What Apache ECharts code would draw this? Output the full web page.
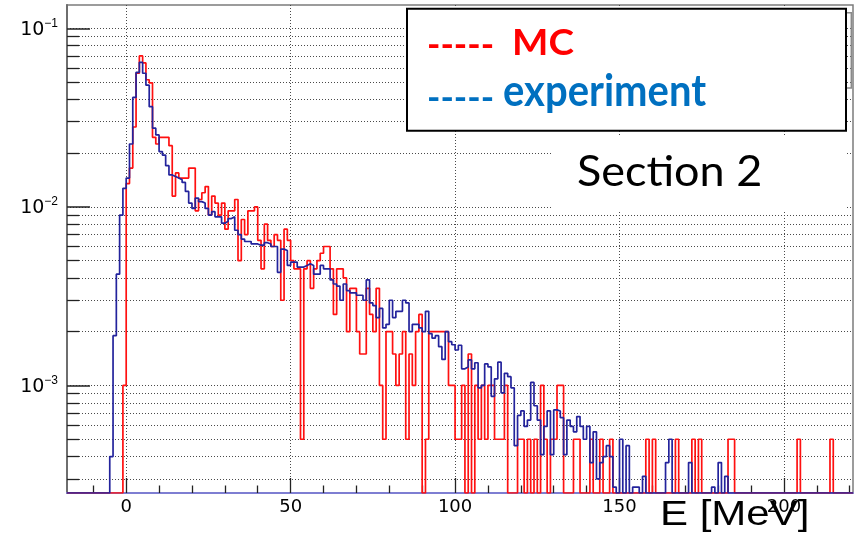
<!DOCTYPE html>
<html>
<head>
<meta charset="utf-8">
<script src="https://cdn.jsdelivr.net/npm/echarts@6/dist/echarts.min.js"></script>
<style>
  html, body { margin: 0; padding: 0; background: #ffffff; }
  #chart { width: 860px; height: 535px; }
</style>
</head>
<body>
<div id="chart"></div>
<script>
// Energy histogram binning: 1 MeV bins spanning the plotted range
const BIN_LOW = -18;
const BIN_WIDTH = 1;

// Normalised entries per bin, listed from BIN_LOW upwards (10 bins per row)
const mcValues = [
  0, 0, 0, 0, 0, 0, 0, 0, 0, 0,                                   // -18 .. -9
  0, 0, 0, 0, 0, 0, 0, 0.001, 0.0135, 0.0165,                     //  -8 .. 1
  0.028, 0.056, 0.070, 0.064, 0.0515, 0.0495, 0.0245, 0.0225, 0.0245, 0.0245, // 2 .. 11
  0.0245, 0.022, 0.0115, 0.0155, 0.0145, 0.0145, 0.0145, 0.0165, 0.0165, 0.0095, // 12 .. 21
  0.011, 0.012, 0.013, 0.009, 0.0115, 0.0105, 0.009, 0.0105, 0.0075, 0.0095,     // 22 .. 31
  0.0095, 0.011, 0.005, 0.0085, 0.007, 0.0095, 0.0095, 0.010, 0.0065, 0.0045,    // 32 .. 41
  0.008, 0.0065, 0.006, 0.007, 0.0065, 0.003, 0.0075, 0.0065, 0.005, 0.0045,     // 42 .. 51
  0.0045, 0.0005, 0.0045, 0.005, 0.0035, 0.0045, 0.005, 0.0055, 0.006, 0.006,    // 52 .. 61
  0.0045, 0.0025, 0.0045, 0.0045, 0.004, 0.002, 0.0035, 0.0035, 0.002, 0.0015,   // 62 .. 71
  0.0015, 0.0035, 0.0025, 0.002, 0.0035, 0.001, 0.0005, 0.002, 0.002, 0.0015,    // 72 .. 81
  0.001, 0.0015, 0.002, 0.0005, 0.0015, 0.001, 0.002, 0.0025, 0, 0.0005,         // 82 .. 91
  0.002, 0.002, 0.002, 0.002, 0.002, 0.002, 0.001, 0.001, 0.0005, 0.0005,        // 92 .. 101
  0.001, 0, 0.0015, 0, 0.001, 0.0005, 0.001, 0.0005, 0.001, 0.001,               // 102 .. 111
  0.0005, 0.0005, 0.0005, 0.001, 0, 0, 0, 0.0005, 0.0005, 0,                     // 112 .. 121
  0.0005, 0, 0.0005, 0, 0.001, 0.0005, 0, 0.0005, 0.0005, 0.001,                 // 122 .. 131
  0.001, 0, 0, 0, 0.0005, 0.0005, 0, 0, 0, 0.0005,                               // 132 .. 141
  0, 0, 0.0005, 0, 0, 0.0005, 0, 0, 0, 0,                                        // 142 .. 151
  0, 0, 0, 0, 0, 0, 0.0005, 0, 0.0005, 0,                                        // 152 .. 161
  0, 0, 0, 0, 0, 0.0005, 0, 0, 0, 0,                                             // 162 .. 171
  0.0005, 0, 0.0005, 0, 0, 0, 0, 0, 0, 0,                                        // 172 .. 181
  0, 0.0005, 0.0005, 0, 0, 0, 0, 0, 0, 0,                                        // 182 .. 191
  0, 0, 0, 0, 0, 0, 0, 0, 0, 0,                                                  // 192 .. 201
  0, 0, 0.0005, 0, 0, 0, 0, 0, 0, 0,                                             // 202 .. 211
  0, 0, 0.0005, 0, 0, 0, 0, 0, 0                                                 // 212 .. 220
];

const expValues = [
  0, 0, 0, 0, 0, 0, 0, 0, 0, 0,                                                  // -18 .. -9
  0, 0, 0, 0.0004, 0.0019, 0.0042, 0.009, 0.0127, 0.0145, 0.0225,                // -8 .. 1
  0.041, 0.0567, 0.0645, 0.056, 0.048, 0.0364, 0.0276, 0.0253, 0.0204, 0.0195,   // 2 .. 11
  0.017, 0.0151, 0.0148, 0.0145, 0.0142, 0.0137, 0.0122, 0.0105, 0.0098, 0.0112, // 12 .. 21
  0.0107, 0.0105, 0.0098, 0.009, 0.0094, 0.0088, 0.0088, 0.0081, 0.0083, 0.0086, // 22 .. 31
  0.0088, 0.0074, 0.0070, 0.0066, 0.0064, 0.0064, 0.0062, 0.0062, 0.0061, 0.0061, // 32 .. 41
  0.0063, 0.0062, 0.0060, 0.0060, 0.0043, 0.0058, 0.0057, 0.0047, 0.0049, 0.0049, // 42 .. 51
  0.0046, 0.0046, 0.0047, 0.0048, 0.0047, 0.0042, 0.0042, 0.0047, 0.0045, 0.0045, // 52 .. 61
  0.0039, 0.0037, 0.0036, 0.0030, 0.0037, 0.0034, 0.0033, 0.0033, 0.0032, 0.0032, // 62 .. 71
  0.0030, 0.0039, 0.0029, 0.0028, 0.0024, 0.0027, 0.0021, 0.0022, 0.0030, 0.0024, // 72 .. 81
  0.0026, 0.0026, 0.0030, 0.0029, 0.0020, 0.0022, 0.0022, 0.0021, 0.0020, 0.0026, // 82 .. 91
  0.00195, 0.00184, 0.0019, 0.00165, 0.0014, 0.0020, 0.00176, 0.00169, 0.00158, 0.00168, // 92 .. 101
  0.00124, 0.00127, 0.00139, 0.00124, 0.00134, 0.00097, 0.0010, 0.00132, 0.00127, 0.00087, // 102 .. 111
  0.00109, 0.00135, 0.00091, 0.00117, 0.00112, 0.00097, 0.00046, 0.00068, 0.00072, 0.00059, // 112 .. 121
  0.00064, 0.00104, 0.00077, 0.00064, 0.00041, 0.00059, 0.00072, 0.00041, 0.00073, 0.00072, // 122 .. 131
  0.00066, 0.00041, 0.00064, 0.00059, 0.00055, 0.00067, 0.00059, 0.0005, 0.00059, 0.00037, // 132 .. 141
  0.00055, 0.0003, 0.00037, 0.0004, 0.00046, 0.0004, 0.00027, 0, 0.0005, 0,      // 142 .. 151
  0.00046, 0, 0.00027, 0.00027, 0, 0.00031, 0, 0, 0, 0,                          // 152 .. 161
  0, 0, 0.00037, 0.0005, 0, 0, 0, 0, 0, 0.00037,                                 // 162 .. 171
  0, 0, 0, 0, 0, 0, 0.00027, 0, 0.00037, 0,                                      // 172 .. 181
  0.00031, 0, 0, 0, 0, 0, 0, 0, 0, 0,                                            // 182 .. 191
  0, 0, 0, 0, 0, 0, 0, 0, 0, 0,                                                  // 192 .. 201
  0, 0, 0, 0, 0, 0, 0, 0, 0, 0,                                                  // 202 .. 211
  0, 0, 0, 0, 0, 0, 0, 0, 0                                                      // 212 .. 220
];

// Axis ranges and tick positions
const X_MIN = -18, X_MAX = 221;
const Y_MIN = 2.5e-4, Y_MAX = 0.135;
const xMajorTicks = [0, 50, 100, 150, 200];
const xMinorTicks = [-10, 10, 20, 30, 40, 60, 70, 80, 90, 110, 120, 130, 140,
                     160, 170, 180, 190, 210, 220];
const yMajorTicks = [0.001, 0.01, 0.1];
const yMinorTicks = [3e-4, 4e-4, 5e-4, 6e-4, 7e-4, 8e-4, 9e-4,
                     0.002, 0.003, 0.004, 0.005, 0.006, 0.007, 0.008, 0.009,
                     0.02, 0.03, 0.04, 0.05, 0.06, 0.07, 0.08, 0.09];

// Step outline points at the bin edges; empty bins sit on the frame bottom
function histogramOutline(values) {
  const pts = values.map((v, i) => [BIN_LOW + i * BIN_WIDTH, v > 0 ? v : Y_MIN]);
  const last = values[values.length - 1];
  pts.push([BIN_LOW + values.length * BIN_WIDTH, last > 0 ? last : Y_MIN]);
  return pts;
}

const dotted = { type: [1, 2], color: '#4a4a4a', width: 1 };
const gridBox = { left: 67, right: 7, top: 5, bottom: 42, outerBoundsMode: 'none' };

const chart = echarts.init(document.getElementById('chart'), null, { renderer: 'canvas' });

chart.setOption({
  animation: false,
  backgroundColor: '#ffffff',
  grid: [
    Object.assign({ show: true, borderColor: '#7c7c7c', borderWidth: 1.5, backgroundColor: 'transparent' }, gridBox),
    Object.assign({}, gridBox)
  ],
  xAxis: [
    {
      gridIndex: 0, type: 'value', min: X_MIN, max: X_MAX,
      axisLine: { show: true, onZero: false, lineStyle: { color: '#7e7ed2', width: 2 } },
      axisTick: { show: true, inside: true, length: 15, customValues: xMajorTicks,
                  lineStyle: { color: '#222', width: 1.3 } },
      axisLabel: { show: true, customValues: xMajorTicks, margin: 5, color: '#000',
                   fontFamily: 'DejaVu Sans', fontSize: 18 },
      splitLine: { show: true, lineStyle: dotted }
    },
    {
      gridIndex: 1, type: 'value', min: X_MIN, max: X_MAX,
      axisLine: { show: false, onZero: false },
      axisTick: { show: true, inside: true, length: 7.5, customValues: xMinorTicks,
                  lineStyle: { color: '#222', width: 1.3 } },
      axisLabel: { show: false },
      splitLine: { show: false }
    }
  ],
  yAxis: [
    {
      gridIndex: 0, type: 'log', logBase: 10, min: Y_MIN, max: Y_MAX,
      axisLine: { show: true, onZero: false, lineStyle: { color: '#6e6e6e', width: 2 } },
      axisTick: { show: true, inside: true, length: 23, customValues: yMajorTicks,
                  lineStyle: { color: '#222', width: 1.5 } },
      axisLabel: {
        show: true, customValues: yMajorTicks, margin: 9, color: '#000',
        formatter: v => '{b|10}{s|\u2212' + Math.round(-Math.log10(v)) + '}',
        rich: {
          b: { fontFamily: 'DejaVu Sans', fontSize: 19, color: '#000', padding: [3, 0, 0, 0] },
          s: { fontFamily: 'Liberation Sans', fontSize: 12, color: '#000', verticalAlign: 'top' }
        }
      },
      splitLine: { show: true, lineStyle: dotted }
    },
    {
      gridIndex: 1, type: 'log', logBase: 10, min: Y_MIN, max: Y_MAX,
      axisLine: { show: false, onZero: false },
      axisTick: { show: true, inside: true, length: 12, customValues: yMinorTicks,
                  lineStyle: { color: '#222', width: 1.3 } },
      axisLabel: { show: false },
      splitLine: { show: true, lineStyle: dotted }
    }
  ],
  series: [
    {
      name: 'MC', type: 'line', xAxisIndex: 0, yAxisIndex: 0,
      step: 'end', symbol: 'none', clip: true, z: 3,
      lineStyle: { color: '#ff1010', width: 1.7 },
      data: histogramOutline(mcValues)
    },
    {
      name: 'experiment', type: 'line', xAxisIndex: 0, yAxisIndex: 0,
      step: 'end', symbol: 'none', clip: true, z: 4,
      lineStyle: { color: '#23239c', width: 1.7 },
      data: histogramOutline(expValues)
    }
  ],
  graphic: [
    // Label box behind the section title
    { type: 'rect', z: 10, shape: { x: 552, y: 136, width: 293, height: 74 },
      style: { fill: '#ffffff' } },
    { type: 'text', z: 11, x: 577, y: 172, scaleX: 1.07,
      style: { text: 'Section 2', font: '42px Lato', fill: '#000', verticalAlign: 'middle', align: 'left' } },
    // Legend
    { type: 'rect', z: 10, shape: { x: 600, y: 12.7, width: 251.3, height: 75.3 },
      style: { fill: 'none', stroke: '#8a8a8a', lineWidth: 1.5 } },
    { type: 'rect', z: 11, shape: { x: 407, y: 8.7, width: 439, height: 122 },
      style: { fill: '#ffffff', stroke: '#000000', lineWidth: 2 } },
    { type: 'text', z: 12, x: 427, y: 45,
      style: { text: '-----', font: 'bold 36px Lato', fill: '#ff0000', verticalAlign: 'middle', align: 'left' } },
    { type: 'text', z: 12, x: 512, y: 43.4, scaleX: 1.07,
      style: { text: 'MC', font: 'bold 36px Lato', fill: '#ff0000', verticalAlign: 'middle', align: 'left' } },
    { type: 'text', z: 12, x: 427, y: 98,
      style: { text: '-----', font: 'bold 36px Lato', fill: '#0070c0', verticalAlign: 'middle', align: 'left' } },
    { type: 'text', z: 12, x: 503, y: 92.5, scaleX: 0.93,
      style: { text: 'experiment', font: 'bold 43px Lato', fill: '#0070c0', verticalAlign: 'middle', align: 'left' } },
    // Axis title
    { type: 'text', z: 12, x: 660, y: 515, scaleX: 1.2,
      style: { text: 'E [MeV]', font: '35px "Liberation Sans"', fill: '#000', verticalAlign: 'middle', align: 'left' } }
  ]
});
</script>
</body>
</html>
